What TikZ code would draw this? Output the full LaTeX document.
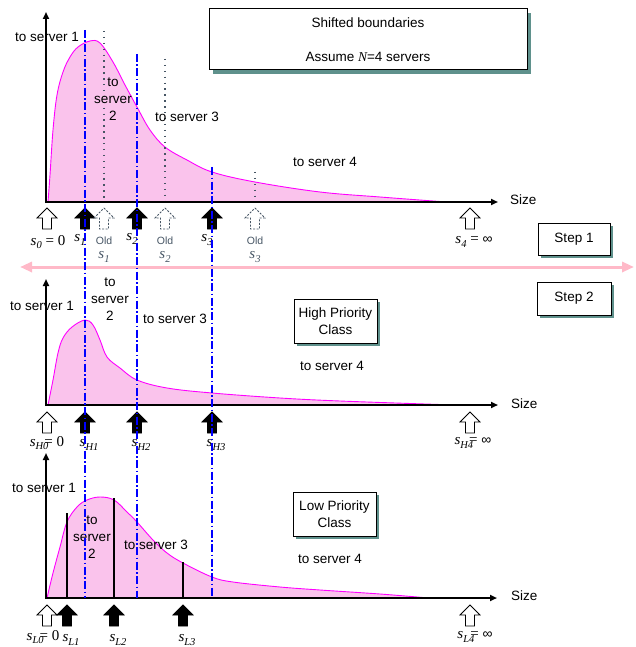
\documentclass[tikz,border=0pt]{standalone}
\usepackage{fontspec}
\setmainfont{Liberation Sans}
\newfontfamily\serif{Liberation Serif}
\newfontfamily\sansinf{Liberation Sans}
\usetikzlibrary{arrows.meta,shadows}
\definecolor{curvecol}{RGB}{255,0,255}
\definecolor{fillcol}{RGB}{250,195,236}
\definecolor{shadowcol}{RGB}{95,145,140}
\definecolor{oldcol}{RGB}{70,85,100}
\definecolor{pinkline}{RGB}{255,185,200}
\newcommand\svar[1]{{\itshape s\raisebox{-3.5pt}{\fontsize{10.5}{11}\selectfont #1}}}
\newcommand\infsym{{\sansinf\fontsize{14}{16}\selectfont ∞}}
\tikzset{
  uparr/.pic={\path[pic actions] (0,0) -- (10,10) -- (4.5,10) -- (4.5,21) -- (-4.5,21) -- (-4.5,10) -- (-10,10) -- cycle;},
}
\begin{document}
\begin{tikzpicture}[x=1pt,y=-1pt,font=\fontsize{13.5}{16}\selectfont,
  axis/.style={line width=2pt,-{Triangle[length=7pt,width=6pt]}},
  density/.style={draw=curvecol,line width=0.9pt,fill=fillcol},
  bound/.style={blue,line width=1.6pt,dash pattern=on 8pt off 2.5pt on 1.5pt off 2.5pt},
  oldbound/.style={oldcol,line width=1.4pt,dash pattern=on 1.4pt off 4.5pt},
  lbound/.style={black,line width=1.6pt},
  lbl/.style={inner sep=0pt,align=center},
  mlbl/.style={inner sep=0pt,font=\serif\fontsize{15}{17}\selectfont},
  oldlbl/.style={inner sep=0pt,text=oldcol,font=\fontsize{10.5}{12}\selectfont},
  openarr/.style={draw=black,fill=white,line width=0.8pt},
  fullarr/.style={draw=black,fill=black,line width=0.8pt},
  oldarr/.style={draw=oldcol,fill=white,line width=0.8pt,dash pattern=on 2pt off 1.5pt},
  box/.style={draw,line width=1pt,fill=white,inner sep=0pt,align=center,
    drop shadow={shadow xshift=4pt,shadow yshift=-4pt,fill=shadowcol,opacity=1}},
  sbox/.style={draw,line width=1pt,fill=white,inner sep=0pt,align=center,
    drop shadow={shadow xshift=3pt,shadow yshift=-3pt,fill=shadowcol,opacity=1}}]
\useasboundingbox (0,0) rectangle (635,647);

% ---------------- Panel 1 ----------------
\path[density] plot[smooth,tension=0.6] coordinates {(48,202) (50,175) (53,130) (57,95) (63,72) (70,57) (78,47) (90,41) (100,43) (113,62) (125,85) (137,107) (150,130) (165,147) (187,160) (212,172) (255,182) (320,192) (380,197) (440,201.5)} -- (440,202) -- cycle;
\draw[oldbound] (104,31) -- (104,202);
\draw[oldbound] (165,59) -- (165,202);
\draw[oldbound] (255,172) -- (255,202);
\draw[axis] (46,203) -- (46,12);
\draw[axis] (45,202) -- (498,202);

\node[lbl] (a1) at (47,37) {to server 1};
\node[lbl] (a2) at (113,99) {to\\[1pt]server\\[1pt]2};
\node[lbl] (a3) at (187,117) {to server 3};
\node[lbl] (a4) at (325,162) {to server 4};
\node[lbl,anchor=west] (asz) at (510,200) {Size};
\node[box,minimum width=318pt,minimum height=61pt] (title) at (368,39.5)
  {Shifted boundaries\\[18pt]Assume {\serif\itshape N}=4 servers};

\pic[openarr] at (47,208) {uparr};
\pic[fullarr] at (85,208) {uparr};
\pic[fullarr] at (137,208) {uparr};
\pic[fullarr] at (212,208) {uparr};
\pic[oldarr] at (104,208) {uparr};
\pic[oldarr] at (165,208) {uparr};
\pic[oldarr] at (255,208) {uparr};
\pic[openarr] at (470,208) {uparr};

\node[mlbl] (s0) at (48,242) {\svar{0} = 0};
\node[mlbl] (s1) at (80,240) {\svar{1}};
\node[mlbl] (s2) at (132,239) {\svar{2}};
\node[mlbl] (s3) at (207,240) {\svar{3}};
\node[mlbl] (s4) at (474,242) {\svar{4} = \infsym};
\node[oldlbl] (o1) at (104,241) {Old};
\node[oldlbl] (o2) at (165,241) {Old};
\node[oldlbl] (o3) at (255,241) {Old};
\node[mlbl,text=oldcol] (os1) at (104,257) {\svar{1}};
\node[mlbl,text=oldcol] (os2) at (165,257) {\svar{2}};
\node[mlbl,text=oldcol] (os3) at (255,257) {\svar{3}};

\node[sbox,minimum width=72pt,minimum height=32pt] (step1) at (574,239) {Step 1};
\coordinate (pl) at (20,267);
\coordinate (pr) at (634,267);
\draw[pinkline,line width=3pt,{Triangle[length=12pt,width=10pt]}-{Triangle[length=12pt,width=10pt]}] (pl) -- (pr);
\node[sbox,minimum width=74pt,minimum height=33pt] (step2) at (574,298.5) {Step 2};

% ---------------- Panel 2 ----------------
\path[density] plot[smooth,tension=0.6] coordinates {(48,405) (53,380) (58,353) (63,338) (72,327) (85,320) (93,325) (100,340) (107,357) (120,368) (137,380) (167,388) (212,393) (280,398) (340,401) (440,404.5)} -- (440,405) -- cycle;
\draw[axis] (46,406) -- (46,279);
\draw[axis] (45,405) -- (498,405);

\node[lbl] (b1) at (42,306) {to server 1};
\node[lbl] (b2) at (110,299) {to\\[1pt]server\\[1pt]2};
\node[lbl] (b3) at (175,319) {to server 3};
\node[lbl] (b4) at (332,366) {to server 4};
\node[lbl,anchor=west] (bsz) at (511,404) {Size};
\node[sbox,minimum width=83pt,minimum height=44pt] (hp) at (335.5,321) {High Priority\\[1pt]Class};

\pic[openarr] at (47,412) {uparr};
\pic[fullarr] at (85,412) {uparr};
\pic[fullarr] at (137,412) {uparr};
\pic[fullarr] at (212,412) {uparr};
\pic[openarr] at (470,412) {uparr};

\node[mlbl] (h0) at (47,443) {\svar{H0}\kern-4pt= 0};
\node[mlbl] (h1) at (89,445) {\svar{H1}};
\node[mlbl] (h2) at (141,445) {\svar{H2}};
\node[mlbl] (h3) at (216,445) {\svar{H3}};
\node[mlbl] (h4) at (473,443) {\svar{H4}\kern-4pt= \infsym};

% ---------------- Panel 3 ----------------
\path[density] plot[smooth,tension=0.6] coordinates {(47,598) (53,573) (60,547) (67,522) (77,507) (87,500) (100,497) (114,500) (127,512) (137,522) (153,540) (167,553) (183,563) (212,577) (233,582) (280,587) (320,590) (380,594) (423,597.5)} -- (423,598) -- cycle;
\draw[lbound] (67,513) -- (67,598);
\draw[lbound] (114,498) -- (114,598);
\draw[lbound] (183,562) -- (183,598);
\draw[axis] (46,599) -- (46,453);
\draw[axis] (45,598) -- (497,598);

\node[lbl] (c1) at (44,488) {to server 1};
\node[lbl] (c2) at (92,537) {to\\[1pt]server\\[1pt]2};
\node[lbl] (c3) at (156,545) {to server 3};
\node[lbl] (c4) at (330,559) {to server 4};
\node[lbl,anchor=west] (csz) at (511,596) {Size};
\node[sbox,minimum width=83pt,minimum height=44pt] (lp) at (334.5,514) {Low Priority\\[1pt]Class};

\pic[openarr] at (47,605) {uparr};
\pic[fullarr] at (67,605) {uparr};
\pic[fullarr] at (114,605) {uparr};
\pic[fullarr] at (183,605) {uparr};
\pic[openarr] at (470,605) {uparr};

\node[mlbl] (l0) at (43,637) {\svar{L0}\kern-4pt= 0};
\node[mlbl] (l1) at (71,640) {\svar{L1}};
\node[mlbl] (l2) at (118,640) {\svar{L2}};
\node[mlbl] (l3) at (187,640) {\svar{L3}};
\node[mlbl] (l4) at (475,637) {\svar{L4}\kern-4pt= \infsym};

% ---------------- boundaries through all panels ----------------
\draw[bound] (85,30) -- (85,598);
\draw[bound] (137,54) -- (137,598);
\draw[bound] (212,167) -- (212,598);
\end{tikzpicture}
\end{document}
